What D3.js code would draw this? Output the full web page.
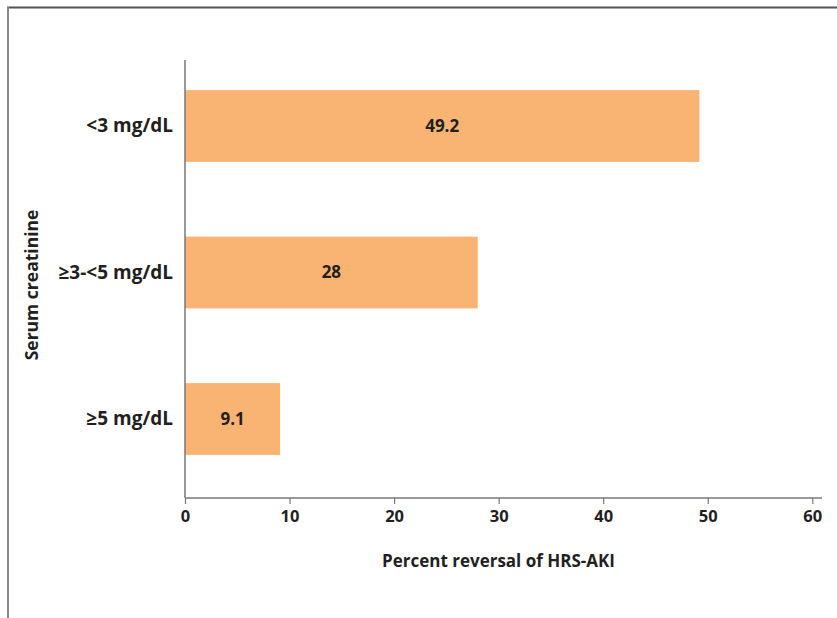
<!DOCTYPE html>
<html>
<head>
<meta charset="utf-8">
<script src="https://cdn.jsdelivr.net/npm/d3@7"></script>
<style>
  html, body { margin: 0; padding: 0; background: #fff; }
  svg { display: block; }
  text { font-family: "Open Sans", "Liberation Sans", sans-serif; font-weight: 700; fill: #231f20; }
</style>
</head>
<body>
<svg id="chart" width="837" height="618"></svg>
<script>
const categories = ["<3 mg/dL", "≥3-<5 mg/dL", "≥5 mg/dL"];
const values = [49.2, 28, 9.1];
const valueLabels = ["49.2", "28", "9.1"];
const xTicks = [0, 10, 20, 30, 40, 50, 60];
const xTitle = "Percent reversal of HRS-AKI";
const yTitle = "Serum creatinine";

const svg = d3.select("#chart");

// frame
svg.append("line").attr("x1", 7).attr("x2", 837).attr("y1", 7.5).attr("y2", 7.5)
  .attr("stroke", "#555").attr("stroke-width", 2);
svg.append("line").attr("x1", 8).attr("x2", 8).attr("y1", 7).attr("y2", 618)
  .attr("stroke", "#888").attr("stroke-width", 2);

const x = d3.scaleLinear().domain([0, 60]).range([185, 812.3]);
const y = d3.scaleBand().domain(categories).range([52.75, 492.25])
  .paddingInner(0.51).paddingOuter(0.255);

// bars
svg.append("g").selectAll("rect").data(values).join("rect")
  .attr("x", x(0))
  .attr("y", (d, i) => y(categories[i]))
  .attr("width", d => x(d) - x(0))
  .attr("height", y.bandwidth())
  .attr("fill", "#f9b474");

// value labels
svg.append("g").selectAll("text").data(values).join("text")
  .attr("x", d => (x(0) + x(d)) / 2)
  .attr("y", (d, i) => y(categories[i]) + y.bandwidth() / 2)
  .attr("dy", "0.35em")
  .attr("text-anchor", "middle")
  .attr("font-size", 17)
  .text((d, i) => valueLabels[i]);

// x axis
const xAxis = svg.append("g").attr("transform", "translate(0,498)")
  .call(d3.axisBottom(x).tickValues(xTicks).tickSize(6).tickSizeOuter(0).tickPadding(6));
xAxis.select(".domain").attr("stroke", "#777").attr("stroke-width", 1.5)
  .attr("d", `M${x(0)},0H822`);
xAxis.selectAll(".tick line").attr("stroke", "#777").attr("stroke-width", 1.2);
xAxis.selectAll(".tick text").attr("font-size", 16.5).attr("fill", "#231f20")
  .style("font-family", "'Open Sans', sans-serif").style("font-weight", 700);

// y axis
const yAxis = svg.append("g").attr("transform", `translate(${x(0)},0)`)
  .call(d3.axisLeft(y).tickSize(0).tickPadding(12));
yAxis.select(".domain").attr("stroke", "#777").attr("stroke-width", 1.5)
  .attr("d", "M0,60V498");
yAxis.selectAll(".tick text").attr("font-size", 19).attr("fill", "#231f20")
  .style("font-family", "'Open Sans', sans-serif").style("font-weight", 700);

// titles
svg.append("text").attr("x", 498.5).attr("y", 561).attr("dy", "0.35em")
  .attr("text-anchor", "middle").attr("font-size", 17).text(xTitle);
svg.append("text").attr("transform", "translate(32,285) rotate(-90)")
  .attr("dy", "0.35em").attr("text-anchor", "middle").attr("font-size", 17.5).text(yTitle);
</script>
</body>
</html>
